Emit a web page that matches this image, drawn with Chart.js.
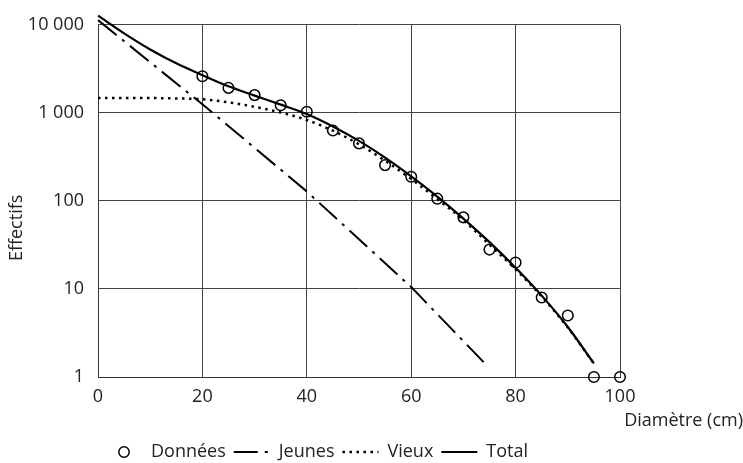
<!DOCTYPE html>
<html><head><meta charset="utf-8">
<script src="https://cdn.jsdelivr.net/npm/chart.js@4"></script>
<style>html,body{margin:0;padding:0;background:#fff}</style>
</head><body>
<canvas id="c" width="743" height="463"></canvas>
<script>
// ---- data ----
const diametres = [20,25,30,35,40,45,50,55,60,65,70,75,80,85,90,95,100];
const donnees   = [2600,1920,1590,1220,1030,630,450,255,188,106,65,28,20,8,5,1,1];
const courbeX   = [0,5,10,15,20,25,30,35,40,45,50,55,60,65,70,75,80,85,90,95];
const total     = [12700,8000,5250,3650,2680,2000,1570,1240,970,700,480,310,190,112,63,34,17.4,8.4,3.7,1.43];
const vieux     = [1479,1479,1472,1459,1426,1315,1172,1009,830,627,439,286,177,105,60.5,31.8,16.7,8.2,3.65,1.42];
const jeunesX   = [0,20,40,60,74];
const jeunes    = [11300,1250,128,10.5,1.45];
const xTickValues = [0,20,40,60,80,100];
const xTickLabels = ['0','20','40','60','80','100'];
const yTickValues = [1,10,100,1000,10000];
const yTickLabels = ['1','10','100','1 000','10 000'];
const seriesLabels = ['Données','Jeunes','Vieux','Total'];

const pts = (xs, ys) => xs.map((x, i) => ({x: x, y: ys[i]}));

Chart.defaults.font.family = "'Open Sans', 'DejaVu Sans', sans-serif";
Chart.defaults.font.size = 18;
Chart.defaults.color = '#222';

// small circle symbol for the legend entry "Données"
const circleImg = document.createElement('canvas');
circleImg.width = 14; circleImg.height = 14;
(function(){ const g = circleImg.getContext('2d'); g.strokeStyle = '#000'; g.lineWidth = 1.5;
  g.beginPath(); g.arc(7, 7, 5.2, 0, Math.PI * 2); g.stroke(); })();

const gridColor = '#444';

new Chart(document.getElementById('c'), {
  type: 'line',
  data: {
    datasets: [
      { label: seriesLabels[0], data: pts(diametres, donnees), showLine: false,
        pointStyle: 'circle', pointRadius: 5.3, pointHoverRadius: 5.3, pointBorderWidth: 1.5,
        pointBorderColor: '#000', pointBackgroundColor: 'rgba(0,0,0,0)', order: 0, clip: false },
      { label: seriesLabels[1], data: pts(jeunesX, jeunes), borderColor: '#000', borderWidth: 2,
        borderDash: [24, 7, 3, 7], pointRadius: 0, pointStyle: 'line', tension: 0,
        fill: false, order: 2, clip: false },
      { label: seriesLabels[2], data: pts(courbeX, vieux), borderColor: '#000', borderWidth: 2.5,
        borderDash: [2.5, 4.5], pointRadius: 0, pointStyle: 'line', cubicInterpolationMode: 'monotone',
        fill: false, order: 3, clip: false },
      { label: seriesLabels[3], data: pts(courbeX, total), borderColor: '#000', borderWidth: 2.2,
        pointRadius: 0, pointStyle: 'line', cubicInterpolationMode: 'monotone',
        fill: false, order: 1, clip: false }
    ]
  },
  options: {
    responsive: false,
    animation: false,
    layout: { padding: { top: 21, left: 0, right: 0, bottom: -8 } },
    scales: {
      x: {
        type: 'linear', min: 0, max: 100,
        ticks: { stepSize: 20, padding: 9, color: '#222', font: { size: 18 },
          callback: v => { const i = xTickValues.indexOf(v); return i >= 0 ? xTickLabels[i] : ''; } },
        grid: { color: gridColor, lineWidth: 1, drawTicks: false },
        border: { color: '#333', width: 1 },
        afterFit: s => { s.height = 31.4; }
      },
      y: {
        type: 'logarithmic', min: 1, max: 10000, position: 'left',
        afterBuildTicks: s => { s.ticks = yTickValues.map(v => ({ value: v })); },
        ticks: { padding: 14, color: '#222', font: { size: 18 },
          callback: v => { const i = yTickValues.indexOf(v); return i >= 0 ? yTickLabels[i] : ''; } },
        grid: { color: gridColor, lineWidth: 1, drawTicks: false },
        border: { color: '#333', width: 1 },
        title: { display: true, text: 'Effectifs\u2003\u2003\u2003', color: '#222',
          font: { size: 18 }, padding: { top: 6, bottom: 0 } },
        afterFit: s => { s.width = 98; }
      },
      yDroite: {
        type: 'linear', position: 'right', display: true,
        grid: { display: false, drawTicks: false }, ticks: { display: false },
        border: { display: false },
        afterFit: s => { s.width = 123; }
      }
    },
    plugins: {
      tooltip: { enabled: false },
      title: { display: true, text: 'Diamètre (cm)', position: 'bottom', align: 'end',
        fullSize: true, weight: 500, color: '#222',
        font: { size: 18, weight: 'normal' }, padding: { top: 2, bottom: 3 } },
      legend: {
        display: true, position: 'bottom', align: 'start', fullSize: false,
        labels: {
          usePointStyle: true, pointStyleWidth: 36, boxHeight: 7.5, padding: 8,
          color: '#222', font: { size: 18 },
          generateLabels: chart => chart.data.datasets.map((ds, i) => ({
            text: ds.label, datasetIndex: i, fontColor: '#222',
            fillStyle: 'rgba(0,0,0,0)', strokeStyle: '#000',
            lineWidth: i === 0 ? 1.5 : ds.borderWidth,
            lineDash: ds.borderDash || [], lineCap: 'butt',
            pointStyle: i === 0 ? circleImg : 'line',
            hidden: !chart.isDatasetVisible(i)
          }))
        }
      }
    }
  }
});
</script>
</body></html>
